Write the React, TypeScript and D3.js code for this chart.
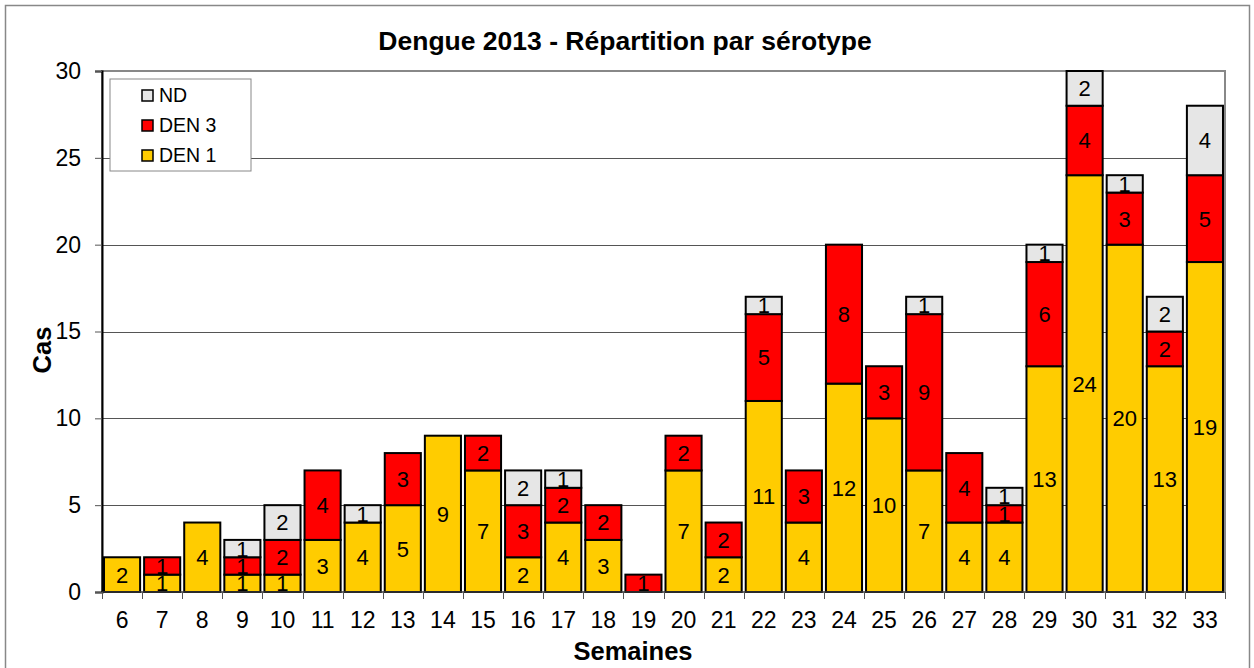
import React, { useEffect, useRef } from 'react';
import * as d3 from 'd3';

const weeks = ['6', '7', '8', '9', '10', '11', '12', '13', '14', '15', '16', '17', '18', '19', '20', '21', '22', '23', '24', '25', '26', '27', '28', '29', '30', '31', '32', '33'];
const den1 = [2, 1, 4, 1, 1, 3, 4, 5, 9, 7, 2, 4, 3, 0, 7, 2, 11, 4, 12, 10, 7, 4, 4, 13, 24, 20, 13, 19];
const den3 = [0, 1, 0, 1, 2, 4, 0, 3, 0, 2, 3, 2, 2, 1, 2, 2, 5, 3, 8, 3, 9, 4, 1, 6, 4, 3, 2, 5];
const nd = [0, 0, 0, 1, 2, 0, 1, 0, 0, 0, 2, 1, 0, 0, 0, 0, 1, 0, 0, 0, 1, 0, 1, 1, 2, 1, 2, 4];
const seriesNames = ['DEN 1', 'DEN 3', 'ND'];
const seriesColors = ['#FFCC00', '#FF0000', '#E6E6E6'];
const yTicks = [0, 5, 10, 15, 20, 25, 30];

export default function App() {
  const ref = useRef<SVGSVGElement>(null);

  useEffect(() => {
    const width = 1254;
    const height = 668;
    const margin = { top: 71, right: 29, bottom: 76, left: 102 };
    const font = 'Arial, "Liberation Sans", sans-serif';

    const svg = d3.select(ref.current);
    svg.selectAll('*').remove();

    // outer frame
    svg.append('rect')
      .attr('x', 5.5).attr('y', 5.5)
      .attr('width', width - 10).attr('height', height)
      .attr('fill', '#fff').attr('stroke', '#888').attr('stroke-width', 1.5);

    const x = d3.scaleBand()
      .domain(weeks)
      .range([margin.left, width - margin.right])
      .paddingInner(0.1)
      .paddingOuter(0.05);

    const y = d3.scaleLinear()
      .domain([0, 30])
      .range([height - margin.bottom, margin.top]);

    // gridlines
    svg.append('g')
      .selectAll('line')
      .data(yTicks.filter(t => t > 0))
      .join('line')
      .attr('x1', margin.left).attr('x2', width - margin.right)
      .attr('y1', d => Math.round(y(d)) + 0.5).attr('y2', d => Math.round(y(d)) + 0.5)
      .attr('stroke', '#555').attr('stroke-width', 1);

    // plot border (top/right)
    svg.append('rect')
      .attr('x', margin.left).attr('y', y(30))
      .attr('width', width - margin.right - margin.left)
      .attr('height', y(0) - y(30))
      .attr('fill', 'none').attr('stroke', '#888').attr('stroke-width', 2);

    const rows = weeks.map((w, i) => ({ week: w, 'DEN 1': den1[i], 'DEN 3': den3[i], ND: nd[i] }));
    const stacked = d3.stack<any>().keys(seriesNames)(rows);

    // each series draws its rects then its labels, so later segments cover earlier labels
    stacked.forEach((layer, si) => {
      const g = svg.append('g');
      const segs = layer.filter(d => d[1] - d[0] > 0);
      g.selectAll('rect')
        .data(segs)
        .join('rect')
        .attr('x', d => x(d.data.week)!)
        .attr('y', d => y(d[1]))
        .attr('width', x.bandwidth())
        .attr('height', d => y(d[0]) - y(d[1]))
        .attr('fill', seriesColors[si])
        .attr('stroke', '#000')
        .attr('stroke-width', 2);
      g.selectAll('text')
        .data(segs)
        .join('text')
        .attr('x', d => x(d.data.week)! + x.bandwidth() / 2)
        .attr('y', d => (y(d[0]) + y(d[1])) / 2)
        .attr('dy', '0.36em')
        .attr('text-anchor', 'middle')
        .attr('font-family', font)
        .attr('font-size', 22)
        .attr('fill', '#000')
        .text(d => d[1] - d[0]);
    });

    // y axis
    const yAxis = svg.append('g')
      .attr('transform', `translate(${margin.left},0)`)
      .call(d3.axisLeft(y).tickValues(yTicks).tickSize(7).tickPadding(14));
    yAxis.select('.domain').attr('stroke', '#000').attr('stroke-width', 2);
    yAxis.selectAll('.tick line').attr('stroke', '#555');
    yAxis.selectAll('text').attr('font-family', font).attr('font-size', 23).attr('fill', '#000');

    // x axis
    svg.append('line')
      .attr('x1', margin.left).attr('x2', width - margin.right)
      .attr('y1', y(0)).attr('y2', y(0))
      .attr('stroke', '#555').attr('stroke-width', 1);
    const step = x.step();
    const start = margin.left;
    svg.append('g')
      .selectAll('line')
      .data(d3.range(weeks.length + 1))
      .join('line')
      .attr('x1', i => Math.round(start + i * step) + 0.5)
      .attr('x2', i => Math.round(start + i * step) + 0.5)
      .attr('y1', y(0)).attr('y2', y(0) + 7)
      .attr('stroke', '#555');
    svg.append('g')
      .selectAll('text')
      .data(weeks)
      .join('text')
      .attr('x', d => x(d)! + x.bandwidth() / 2)
      .attr('y', y(0) + 36)
      .attr('text-anchor', 'middle')
      .attr('font-family', font)
      .attr('font-size', 23)
      .text(d => d);

    // titles
    svg.append('text')
      .attr('x', 625).attr('y', 50)
      .attr('text-anchor', 'middle')
      .attr('font-family', font).attr('font-weight', 'bold').attr('font-size', 26.5)
      .text('Dengue 2013 - Répartition par sérotype');

    svg.append('text')
      .attr('x', 633).attr('y', 660)
      .attr('text-anchor', 'middle')
      .attr('font-family', font).attr('font-weight', 'bold').attr('font-size', 25.5)
      .text('Semaines');

    svg.append('text')
      .attr('transform', `translate(51,350) rotate(-90)`)
      .attr('text-anchor', 'middle')
      .attr('font-family', font).attr('font-weight', 'bold').attr('font-size', 25.5)
      .text('Cas');

    // legend
    const lg = svg.append('g').attr('transform', 'translate(110,79)');
    lg.append('rect')
      .attr('width', 141).attr('height', 92)
      .attr('fill', '#fff').attr('stroke', '#888').attr('stroke-width', 1);
    const legendOrder = [2, 1, 0];
    legendOrder.forEach((si, i) => {
      const cy = 16 + i * 30;
      lg.append('rect')
        .attr('x', 32).attr('y', cy - 5)
        .attr('width', 11).attr('height', 11)
        .attr('fill', seriesColors[si]).attr('stroke', '#000').attr('stroke-width', 1.5);
      lg.append('text')
        .attr('x', 49).attr('y', cy + 7)
        .attr('font-family', font).attr('font-size', 19.5)
        .text(seriesNames[si]);
    });
  }, []);

  return (
    <svg ref={ref} width={1254} height={668} style={{ position: 'absolute', left: 0, top: 0 }}></svg>
  );
}
